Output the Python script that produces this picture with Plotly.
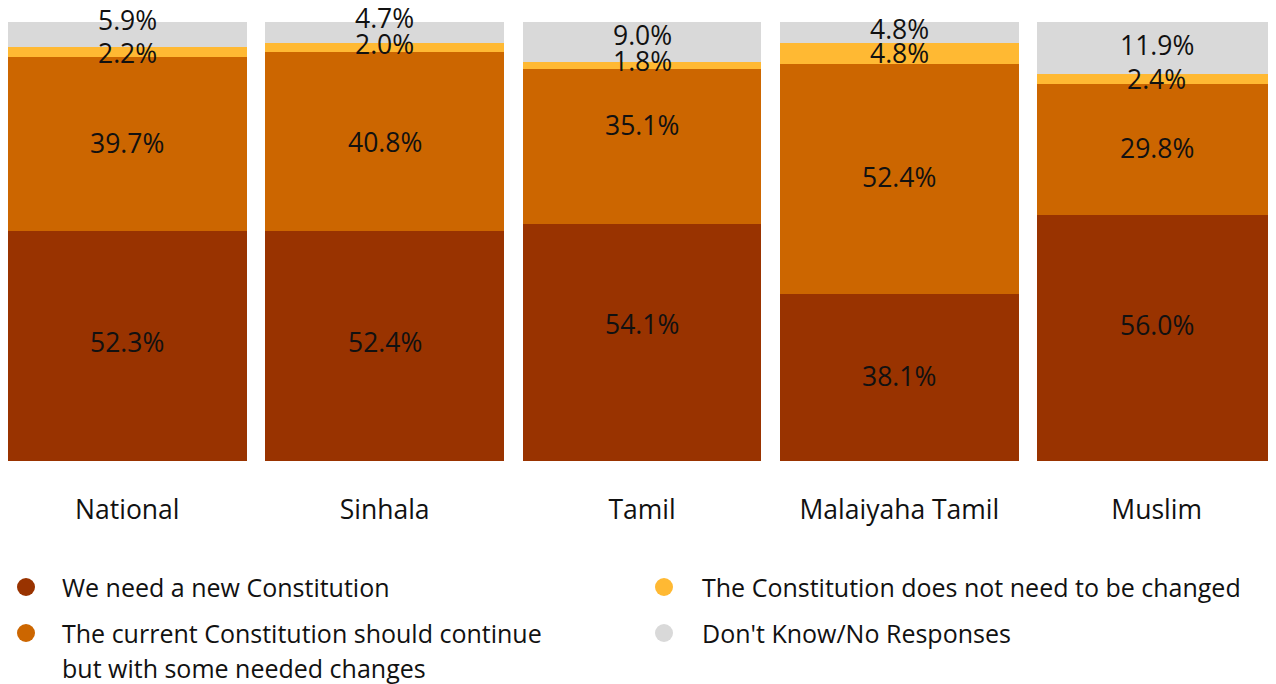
import plotly.graph_objects as go

# ---------------- data ----------------
categories = ["National", "Sinhala", "Tamil", "Malaiyaha Tamil", "Muslim"]
new_constitution = [52.3, 52.4, 54.1, 38.1, 56.0]
current_with_changes = [39.7, 40.8, 35.1, 52.4, 29.8]
no_change = [2.2, 2.0, 1.8, 4.8, 2.4]
dont_know = [5.9, 4.7, 9.0, 4.8, 11.9]

series_names = [
    "We need a new Constitution",
    "The current Constitution should continue but with some needed changes",
    "The Constitution does not need to be changed",
    "Don't Know/No Responses",
]
series_values = [new_constitution, current_with_changes, no_change, dont_know]

# ---------------- style ----------------
colors = ["#993300", "#CC6600", "#FFB933", "#D9D9D9"]
FONT = "Open Sans"
PAGE_OFF = 8  # browser body margin
W, H = 1268, 676
L, R, T = 0, 0, 14
PH = 439
B = H - T - PH
PW = W - L - R
GAP = 0.0727

# vertical nudges (px, upward) for value labels, per series and bar
label_nudge = [
    [4, 4, 18, 1, 13],
    [1, -1, 21, 2, 2],
    [-1, 3, 4, 0, 0],
    [15, 15, 7, 3, 3],
]


def px_x(px):
    return (px - PAGE_OFF - L) / PW


def px_y(py):
    return (PAGE_OFF + T + PH - py) / PH


fig = go.Figure()
for name, vals, col in zip(series_names, series_values, colors):
    fig.add_trace(go.Bar(
        x=categories, y=vals, name=name, marker=dict(color=col, line=dict(width=0)),
        showlegend=False, hoverinfo="x+y+name",
    ))

annotations = []
cum = [0.0] * len(categories)
for si, vals in enumerate(series_values):
    for ci, v in enumerate(vals):
        center = cum[ci] + v / 2
        cum[ci] += v
        annotations.append(dict(
            x=categories[ci], y=center, xref="x", yref="y",
            text=f"{v:.1f}%", showarrow=False, yshift=label_nudge[si][ci],
            font=dict(family=FONT, size=26.5, color="#111111"),
            xanchor="center", yanchor="middle",
        ))

# manual legend (two columns)
legend_pos = [(26, 60, 587), (26, 60, 633), (664, 700, 587), (664, 700, 633)]
legend_lines = [
    ["We need a new Constitution"],
    ["The current Constitution should continue", "but with some needed changes"],
    ["The Constitution does not need to be changed"],
    ["Don't Know/No Responses"],
]
shapes = []
for (cx, tx, cy), lines, col in zip(legend_pos, legend_lines, colors):
    shapes.append(dict(
        type="circle", xref="paper", yref="paper", xsizemode="pixel", ysizemode="pixel",
        xanchor=px_x(cx), yanchor=px_y(cy), x0=-9, x1=9, y0=-9, y1=9,
        fillcolor=col, line=dict(width=0),
    ))
    for k, line in enumerate(lines):
        annotations.append(dict(
            x=px_x(tx), y=px_y(cy + 35 * k), xref="paper", yref="paper",
            text=line, showarrow=False, xanchor="left", yanchor="middle",
            font=dict(family=FONT, size=25, color="#111111"),
        ))

fig.update_layout(
    width=W, height=H,
    margin=dict(l=L, r=R, t=T, b=B),
    barmode="stack", bargap=GAP,
    plot_bgcolor="white", paper_bgcolor="white",
    font=dict(family=FONT, color="#111111"),
    xaxis=dict(
        range=[-0.5 + GAP / 2, len(categories) - 0.5 - GAP / 2],
        showgrid=False, zeroline=False, showline=False,
        ticks="outside", ticklen=25, tickcolor="rgba(0,0,0,0)",
        tickfont=dict(family=FONT, size=26.5, color="#111111"),
    ),
    yaxis=dict(range=[0, 100], visible=False, fixedrange=True),
    annotations=annotations,
    shapes=shapes,
)

fig.write_html("out.html")
